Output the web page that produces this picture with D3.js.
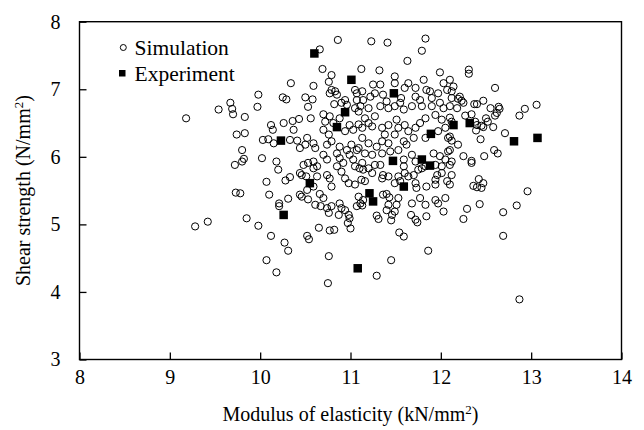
<!DOCTYPE html>
<html>
<head>
<meta charset="utf-8">
<script src="https://cdn.jsdelivr.net/npm/d3@7/dist/d3.min.js"></script>
<style>
  body { margin: 0; background: #fff; }
  svg text { font-family: "Liberation Serif", "Times New Roman", serif; fill: #000; }
</style>
</head>
<body>
<div id="chart"></div>
<script>
// axis ticks
var xTicks = [8, 9, 10, 11, 12, 13, 14];
var yTicks = [3, 4, 5, 6, 7, 8];

// simulation points [modulus, shear strength]
var simulation = [
  [9.18,6.57],[9.54,6.70],[9.67,6.80],[9.69,6.71],[9.70,6.63],[9.83,6.59],[9.98,6.92],[9.97,6.74],
  [9.74,6.33],[9.83,6.35],[10.03,6.25],[10.09,6.26],[9.80,6.10],[9.82,5.97],[9.80,5.93],[9.72,5.88],
  [10.02,5.98],[9.73,5.47],[9.78,5.46],[9.28,4.97],[9.42,5.04],[9.85,5.09],[9.98,4.98],[10.07,5.63],
  [10.07,4.47],
  [10.66,7.59],[10.86,7.73],[10.69,7.30],[10.79,7.21],[11.12,7.30],[10.76,7.11],[10.34,7.09],[10.59,7.05],
  [10.79,6.99],[10.83,6.97],[10.77,6.94],[10.85,6.92],[11.05,6.99],[11.07,6.94],[10.25,6.88],[10.29,6.85],
  [10.50,6.88],[10.58,6.85],[10.53,6.74],[10.82,6.78],[10.90,6.80],[10.96,6.77],[10.94,6.84],[11.07,6.84],
  [11.05,6.72],[10.70,6.63],[10.77,6.60],[10.72,6.52],[10.81,6.50],[10.88,6.57],[10.56,6.57],[10.43,6.56],
  [10.36,6.53],[10.26,6.50],[10.12,6.47],[10.14,6.40],[10.37,6.40],[10.99,6.47],[11.03,6.40],[10.94,6.38],
  [10.70,6.40],[10.76,6.33],[10.79,6.23],[10.74,6.18],[10.15,6.20],[10.33,6.25],[10.41,6.24],[10.52,6.28],
  [10.59,6.20],[10.50,6.18],[10.44,6.13],[10.61,6.13],[10.18,5.93],[10.48,5.88],[10.53,5.91],[10.59,5.93],
  [10.63,5.86],[10.70,6.03],[10.74,5.96],[10.85,6.05],[10.88,5.98],[10.92,5.91],[10.99,6.03],[11.03,5.96],
  [10.96,6.10],[10.88,6.15],[11.01,6.18],[11.07,6.10],
  [10.20,5.81],[10.10,5.44],[10.28,5.65],[10.33,5.70],[10.31,5.38],[10.21,5.31],[10.21,5.27],[10.12,4.83],
  [10.27,4.73],[10.31,4.61],[10.18,4.29],[10.52,4.83],[10.54,4.78],[10.65,4.95],[10.77,4.91],[10.82,4.92],
  [10.76,4.53],[10.75,4.13],[10.44,5.76],[10.44,5.44],[10.46,5.41],[10.52,5.51],[10.59,5.56],[10.66,5.45],
  [10.70,5.39],[10.53,5.37],[10.61,5.29],[10.67,5.27],[10.74,5.24],[10.79,5.27],[10.76,5.17],[10.87,5.14],
  [10.88,5.31],[10.90,5.24],[10.94,5.21],[10.98,5.14],[10.97,5.02],[11.00,4.94],[10.99,5.09],[10.59,5.83],
  [10.46,5.73],[10.51,5.71],[10.63,5.71],[10.74,5.73],[10.77,5.68],[10.79,5.56],[10.85,5.86],[10.90,5.78],
  [10.94,5.68],[10.98,5.61],[11.05,5.59],[11.09,5.41],[11.07,5.27],[11.10,5.83],[11.05,5.86],
  [11.29,4.24],[11.45,4.47],[11.86,4.61],[11.54,4.88],[11.59,4.82],[11.29,5.13],[11.31,5.08],[11.45,5.06],
  [11.67,5.14],[11.72,5.07],[11.74,5.03],[11.84,5.12],[12.03,5.19],[11.94,5.36],[11.97,5.31],[12.05,5.39],
  [11.77,5.39],[11.83,5.29],[11.68,5.31],[11.42,5.29],[11.40,5.21],[11.51,5.29],[11.49,5.19],[11.46,5.14],
  [11.53,5.39],[11.36,5.44],[11.40,5.45],[11.43,5.40],[11.11,5.31],[11.13,5.28],[11.14,5.36],[11.12,5.66],
  [11.16,5.64],[11.14,5.81],[11.20,5.83],[11.24,5.76],[11.33,5.88],[11.36,5.73],[11.35,5.68],[11.42,5.71],
  [11.53,5.71],[11.49,5.61],[11.55,5.64],[11.60,5.76],[11.64,5.71],[11.70,5.73],[11.75,5.81],[11.79,5.83],
  [11.72,5.61],[11.73,5.54],[11.84,5.56],[11.94,5.66],[11.96,5.73],[11.94,5.59],[12.01,5.76],[12.07,5.64],
  [12.10,5.59],[12.10,5.88],[12.01,5.86],[11.83,5.86],[11.59,5.86],
  [12.12,5.73],[12.34,5.91],[12.42,5.67],[12.47,5.61],[12.36,5.57],[12.40,5.55],[12.45,5.54],[12.43,5.30],
  [12.29,5.23],[12.25,5.08],[12.69,5.18],[12.84,5.28],[12.96,5.49],[12.69,4.83],[12.87,3.89],
  [12.31,7.29],[12.31,7.23],[12.60,7.02],[12.10,7.14],[12.14,7.04],[12.12,6.97],[12.21,6.89],[12.19,6.86],
  [12.23,6.83],[12.12,6.87],[12.10,6.75],[12.18,6.72],[12.25,6.80],[12.37,6.78],[12.40,6.78],[12.47,6.83],
  [12.55,6.72],[12.64,6.74],[12.65,6.71],[12.62,6.65],[12.60,6.61],[12.93,6.71],[12.87,6.61],[13.06,6.77],
  [12.27,6.61],[12.34,6.63],[12.38,6.52],[12.40,6.47],[12.45,6.46],[12.50,6.57],[12.52,6.52],[12.58,6.44],
  [12.47,6.44],[12.10,6.58],[12.12,6.52],[12.39,6.39],[12.44,6.26],[12.71,6.35],[12.10,6.30],[12.12,6.24],
  [12.19,6.18],[12.10,6.10],[12.25,6.01],[12.34,5.94],[12.48,6.01],[12.59,6.10],[12.63,6.05],
  [11.23,7.71],[11.41,7.69],[11.83,7.75],[11.79,7.57],[11.63,7.42],[11.32,7.28],[11.99,7.25],[11.49,7.19],
  [11.49,7.09],[11.64,7.09],[11.81,7.14],[11.72,7.02],[11.60,7.02],[11.33,7.07],[11.25,7.07],[11.27,6.94],
  [11.13,6.97],[11.14,6.84],[11.22,6.89],[11.36,6.92],[11.40,6.82],[11.56,6.87],[11.55,6.80],[11.72,6.89],
  [11.77,6.84],[11.84,6.99],[11.88,6.97],[11.90,6.87],[12.03,7.09],[12.07,6.99],[11.97,6.94],[11.99,6.80],
  [11.90,6.75],[12.03,6.72],[11.79,6.75],[11.68,6.75],[11.59,6.70],[11.49,6.75],[11.42,6.72],[11.33,6.75],
  [11.20,6.72],[11.11,6.75],[11.09,6.67],[11.16,6.57],[11.20,6.50],[11.24,6.45],[11.13,6.43],[11.09,6.48],
  [11.27,6.60],[11.35,6.43],[11.42,6.47],[11.38,6.33],[11.51,6.55],[11.53,6.43],[11.60,6.47],[11.64,6.38],
  [11.72,6.43],[11.77,6.50],[11.83,6.57],[11.94,6.62],[12.01,6.55],[12.05,6.43],[11.97,6.38],[12.08,6.28],
  [11.83,6.28],[11.70,6.28],[11.59,6.23],[11.49,6.33],[11.42,6.20],[11.35,6.23],[11.29,6.15],[11.20,6.20],
  [11.13,6.28],[11.09,6.13],[11.16,6.05],[11.24,6.03],[11.35,6.05],[11.44,6.08],[11.53,6.10],[11.62,6.18],
  [11.68,6.03],[11.59,5.96],[11.72,5.93],[11.92,6.05],[11.99,6.01],[12.08,6.08],[12.05,5.96],[11.94,5.88],
  [12.12,5.93],[11.27,5.88],[11.13,5.91]
];

// experiment points [modulus, shear strength]
var experiment = [
  [10.60,7.53],[11.01,7.14],[10.94,6.66],[10.85,6.44],[10.23,6.24],[11.48,6.94],[12.14,6.47],[12.32,6.50],
  [12.81,6.23],[13.07,6.28],[11.89,6.34],[11.47,5.94],[11.79,5.96],[11.88,5.87],[11.21,5.46],[11.25,5.34],
  [11.59,5.56],[10.26,5.14],[10.55,5.61],[11.08,4.35]
];

var legendLabels = ["Simulation", "Experiment"];

function drawChart()
{
    var width = 644;
    var height = 430;

    var left = 79.5, right = 621.5, top = 21.7, bottom = 359.5;

    var svg = d3.select("#chart")
        .append("svg")
        .attr("width", width)
        .attr("height", height);

    var x = d3.scaleLinear().domain([8, 14]).range([left, right]);
    var y = d3.scaleLinear().domain([3, 8]).range([bottom, top]);

    // axes, ticks pointing inward
    var xAxis = svg.append("g")
        .attr("transform", "translate(0," + bottom + ")")
        .call(d3.axisBottom(x).tickValues(xTicks).tickFormat(d3.format("d"))
            .tickSizeInner(-7).tickSizeOuter(0).tickPadding(10));
    var yAxis = svg.append("g")
        .attr("transform", "translate(" + left + ",0)")
        .call(d3.axisLeft(y).tickValues(yTicks).tickFormat(d3.format("d"))
            .tickSizeInner(-7).tickSizeOuter(0).tickPadding(19));

    [xAxis, yAxis].forEach(function(g) {
        g.select(".domain").remove();
        g.selectAll(".tick line").attr("stroke", "#000").attr("stroke-width", 1.3);
        g.selectAll(".tick text")
            .style("font-size", "20px")
            .style("font-family", "'Liberation Serif', 'Times New Roman', serif");
    });

    // plot frame
    svg.append("rect")
        .attr("x", left)
        .attr("y", top)
        .attr("width", right - left)
        .attr("height", bottom - top)
        .attr("fill", "none")
        .attr("stroke", "#000")
        .attr("stroke-width", 1.4);

    // simulation: open circles
    svg.append("g")
        .selectAll("circle")
        .data(simulation)
        .enter()
        .append("circle")
        .attr("cx", function(d) { return x(d[0]); })
        .attr("cy", function(d) { return y(d[1]); })
        .attr("r", 3.6)
        .attr("fill", "none")
        .attr("stroke", "#000")
        .attr("stroke-width", 1);

    // experiment: filled squares
    var sq = 8.5;
    svg.append("g")
        .selectAll("rect")
        .data(experiment)
        .enter()
        .append("rect")
        .attr("x", function(d) { return x(d[0]) - sq / 2; })
        .attr("y", function(d) { return y(d[1]) - sq / 2; })
        .attr("width", sq)
        .attr("height", sq)
        .attr("fill", "#000");

    // legend
    svg.append("circle")
        .attr("cx", 123.3).attr("cy", 47.5).attr("r", 3)
        .attr("fill", "none").attr("stroke", "#000").attr("stroke-width", 1);
    svg.append("rect")
        .attr("x", 119).attr("y", 70).attr("width", 6.5).attr("height", 6.5)
        .attr("fill", "#000");
    svg.append("text")
        .attr("x", 134.5).attr("y", 54.5)
        .style("font-size", "21.5px")
        .text(legendLabels[0]);
    svg.append("text")
        .attr("x", 134.5).attr("y", 80.5)
        .style("font-size", "21.5px")
        .text(legendLabels[1]);

    // axis titles
    var xt = svg.append("text")
        .attr("x", (left + right) / 2)
        .attr("y", 421)
        .attr("text-anchor", "middle")
        .style("font-size", "20px");
    xt.append("tspan").text("Modulus of elasticity (kN/mm");
    xt.append("tspan").attr("dy", -7).style("font-size", "13px").text("2");
    xt.append("tspan").attr("dy", 7).text(")");

    var yt = svg.append("text")
        .attr("transform", "translate(30," + ((top + bottom) / 2) + ") rotate(-90)")
        .attr("text-anchor", "middle")
        .style("font-size", "20px");
    yt.append("tspan").text("Shear strength (N/mm");
    yt.append("tspan").attr("dy", -7).style("font-size", "13px").text("2");
    yt.append("tspan").attr("dy", 7).text(")");
}

drawChart();
</script>
</body>
</html>
